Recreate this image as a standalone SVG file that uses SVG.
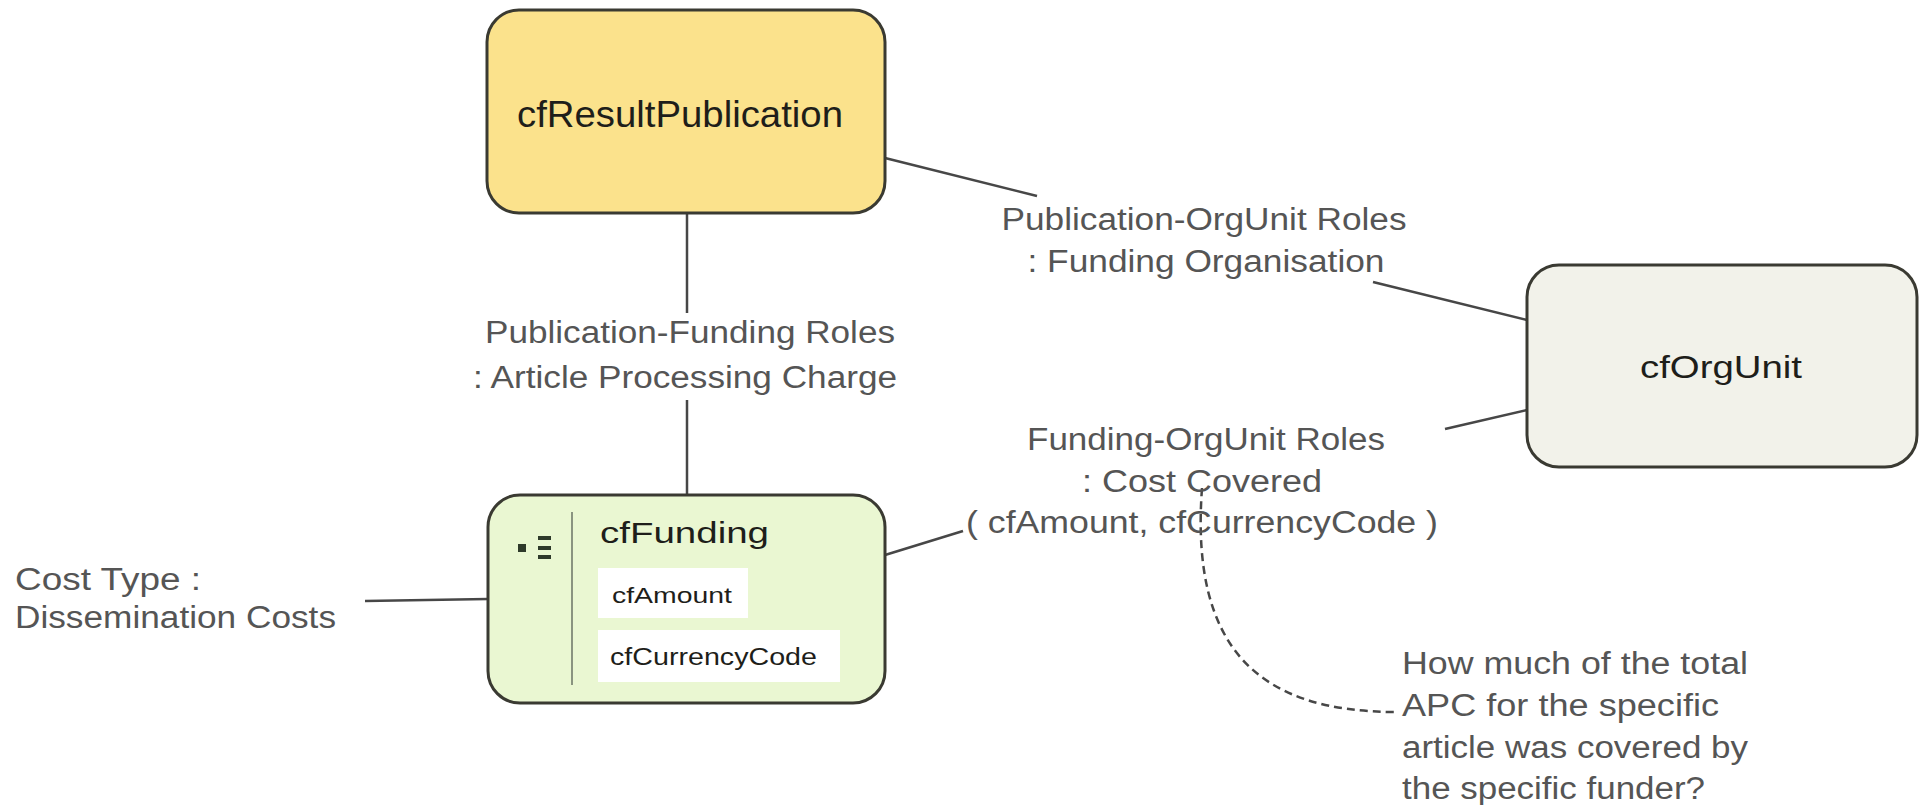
<svg xmlns="http://www.w3.org/2000/svg" width="1923" height="805" viewBox="0 0 1923 805">
<style>
.node{stroke:#3a3a32;stroke-width:3}
.name{font-family:"Liberation Sans",Arial,sans-serif;fill:#1e1e1a}
.lbl{font-family:"Liberation Sans",Arial,sans-serif;fill:#555;font-size:31px}
.conn{stroke:#474747;stroke-width:2.5;fill:none}
.dash{stroke:#474747;stroke-width:2.5;fill:none;stroke-dasharray:8 5}
.attr{fill:#ffffff}
</style>
<rect width="1923" height="805" fill="#ffffff"/>
<g id="connectors">
<line class="conn" x1="687" y1="213" x2="687" y2="313"/>
<line class="conn" x1="687" y1="400" x2="687" y2="495"/>
<line class="conn" x1="885" y1="158" x2="1037" y2="196"/>
<line class="conn" x1="1373" y1="282" x2="1527" y2="320"/>
<line class="conn" x1="885" y1="555" x2="963" y2="531"/>
<line class="conn" x1="1445" y1="429" x2="1527" y2="410"/>
<line class="conn" x1="365" y1="601" x2="488" y2="599"/>
<path class="dash" d="M 1202 488 C 1190 650, 1260 712, 1396 712"/>
</g>
<g id="label-pub-funding">
<text class="lbl" x="690" y="343" text-anchor="middle" textLength="410" lengthAdjust="spacingAndGlyphs">Publication-Funding Roles</text>
<text class="lbl" x="685" y="388" text-anchor="middle" textLength="424" lengthAdjust="spacingAndGlyphs">: Article Processing Charge</text>
</g>
<g id="label-pub-orgunit">
<text class="lbl" x="1204" y="230" text-anchor="middle" textLength="405" lengthAdjust="spacingAndGlyphs">Publication-OrgUnit Roles</text>
<text class="lbl" x="1206" y="272" text-anchor="middle" textLength="357" lengthAdjust="spacingAndGlyphs">: Funding Organisation</text>
</g>
<g id="label-funding-orgunit">
<text class="lbl" x="1206" y="450" text-anchor="middle" textLength="358" lengthAdjust="spacingAndGlyphs">Funding-OrgUnit Roles</text>
<text class="lbl" x="1202" y="492" text-anchor="middle" textLength="240" lengthAdjust="spacingAndGlyphs">: Cost Covered</text>
<text class="lbl" x="1202" y="533" text-anchor="middle" textLength="472" lengthAdjust="spacingAndGlyphs">( cfAmount, cfCurrencyCode )</text>
</g>
<g id="label-cost-type">
<text class="lbl" x="15" y="590" textLength="186" lengthAdjust="spacingAndGlyphs">Cost Type :</text>
<text class="lbl" x="15" y="628" textLength="321" lengthAdjust="spacingAndGlyphs">Dissemination Costs</text>
</g>
<g id="note">
<text class="lbl" x="1402" y="674" textLength="346" lengthAdjust="spacingAndGlyphs">How much of the total</text>
<text class="lbl" x="1402" y="716" textLength="317" lengthAdjust="spacingAndGlyphs">APC for the specific</text>
<text class="lbl" x="1402" y="758" textLength="346" lengthAdjust="spacingAndGlyphs">article was covered by</text>
<text class="lbl" x="1402" y="799" textLength="303" lengthAdjust="spacingAndGlyphs">the specific funder?</text>
</g>
<g id="cfResultPublication">
<rect class="node" x="487" y="10" width="398" height="203" rx="32" fill="#fbe28c"/>
<text class="name" x="680" y="127" font-size="37" text-anchor="middle" textLength="326" lengthAdjust="spacingAndGlyphs">cfResultPublication</text>
</g>
<g id="cfOrgUnit">
<rect class="node" x="1527" y="265" width="390" height="202" rx="32" fill="#f2f2ea"/>
<text class="name" x="1721" y="378" font-size="32" text-anchor="middle" textLength="162" lengthAdjust="spacingAndGlyphs">cfOrgUnit</text>
</g>
<g id="cfFunding">
<rect class="node" x="488" y="495" width="397" height="208" rx="32" fill="#eaf7d2"/>
<rect x="518" y="544" width="8" height="8" fill="#2e3a2a"/>
<rect x="538" y="536" width="13" height="4" fill="#2e3a2a"/>
<rect x="538" y="546" width="13" height="4" fill="#2e3a2a"/>
<rect x="538" y="555" width="13" height="4" fill="#2e3a2a"/>
<line x1="572" y1="512" x2="572" y2="685" stroke="#8a9480" stroke-width="2"/>
<text class="name" x="600" y="543" font-size="30" textLength="169" lengthAdjust="spacingAndGlyphs">cfFunding</text>
<rect class="attr" x="598" y="568" width="150" height="50"/>
<text class="name" x="612" y="603" font-size="22" textLength="120" lengthAdjust="spacingAndGlyphs">cfAmount</text>
<rect class="attr" x="598" y="630" width="242" height="52"/>
<text class="name" x="610" y="665" font-size="23" textLength="207" lengthAdjust="spacingAndGlyphs">cfCurrencyCode</text>
</g>
</svg>
